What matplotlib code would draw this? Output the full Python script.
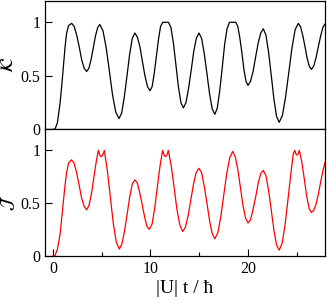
import numpy as np
import matplotlib
matplotlib.use("Agg")
from matplotlib import pyplot as plt
from matplotlib.ticker import MultipleLocator

plt.rcParams['font.family'] = ['Liberation Serif', 'DejaVu Serif']
plt.rcParams['mathtext.fontset'] = 'stix'

# upper panel (K)
t_k = [0.0, 0.2, 0.45, 0.72, 0.9, 1.06, 1.25, 1.4, 1.6, 1.92,
       2.18, 2.43, 2.69, 2.94, 3.2, 3.45,
       3.68, 3.9, 4.13, 4.35, 4.58, 4.8,
       5.13, 5.46, 5.79, 6.11, 6.44, 6.77,
       7.04, 7.31, 7.59, 7.86, 8.13, 8.4,
       8.66, 8.92, 9.18, 9.43, 9.69, 9.95,
       10.17, 10.38, 10.6, 10.82, 11.03, 11.25, 11.55, 11.85,
       12.1, 12.36, 12.61, 12.86, 13.12, 13.37,
       13.64, 13.9, 14.17, 14.44, 14.7, 14.97,
       15.24, 15.51, 15.79, 16.06, 16.33, 16.6,
       16.85, 17.1, 17.35, 17.6, 17.85, 18.1, 18.43, 18.75,
       18.96, 19.17, 19.38, 19.58, 19.79, 20.0,
       20.26, 20.52, 20.79, 21.05, 21.31, 21.57,
       21.84, 22.11, 22.39, 22.66, 22.93, 23.2,
       23.53, 23.85, 24.18, 24.51, 24.83, 25.16,
       25.38, 25.61, 25.83, 26.05, 26.28, 26.5,
       26.74, 26.98, 27.23, 27.47, 27.71, 27.95]
k_vals = [0.0, 0.0, 0.06, 0.24, 0.41, 0.58, 0.78, 0.9, 0.97, 0.99,
          0.96, 0.88, 0.77, 0.65, 0.57, 0.54,
          0.57, 0.65, 0.76, 0.87, 0.95, 0.98,
          0.92, 0.76, 0.54, 0.32, 0.16, 0.10,
          0.15, 0.30, 0.50, 0.70, 0.85, 0.90,
          0.86, 0.77, 0.63, 0.50, 0.40, 0.36,
          0.40, 0.52, 0.68, 0.84, 0.96, 1.0, 1.0, 1.0,
          0.95, 0.80, 0.60, 0.40, 0.25, 0.20,
          0.25, 0.38, 0.55, 0.73, 0.85, 0.90,
          0.85, 0.71, 0.52, 0.33, 0.19, 0.14,
          0.20, 0.36, 0.57, 0.79, 0.94, 1.0, 1.0, 1.0,
          0.96, 0.85, 0.71, 0.56, 0.45, 0.41,
          0.45, 0.54, 0.68, 0.81, 0.90, 0.94,
          0.88, 0.72, 0.50, 0.28, 0.12, 0.065,
          0.13, 0.30, 0.53, 0.76, 0.93, 0.99,
          0.96, 0.88, 0.78, 0.67, 0.59, 0.56,
          0.59, 0.67, 0.78, 0.88, 0.96, 0.99]

# lower panel (J)
t_j = [0.0, 0.2, 0.45, 0.72, 0.9, 1.06, 1.25, 1.4, 1.6, 1.9,
       2.16, 2.42, 2.68, 2.93, 3.19, 3.45,
       3.7, 3.95, 4.2, 4.45, 4.65, 4.8, 4.95, 5.1, 5.27,
       5.57, 5.88, 6.18, 6.49, 6.8,
       7.07, 7.33, 7.6, 7.87, 8.13, 8.4,
       8.65, 8.89, 9.14, 9.39, 9.63, 9.88,
       10.16, 10.43, 10.71, 10.99, 11.25, 11.4, 11.54, 11.68, 11.83,
       12.13, 12.42, 12.71, 13.01, 13.3,
       13.58, 13.86, 14.14, 14.41, 14.69, 14.97,
       15.24, 15.51, 15.79, 16.06, 16.33, 16.6,
       16.91, 17.21, 17.52, 17.82, 18.13, 18.43,
       18.69, 18.95, 19.22, 19.48, 19.74, 20.0,
       20.26, 20.52, 20.79, 21.05, 21.31, 21.57,
       21.84, 22.11, 22.39, 22.66, 22.93, 23.2,
       23.51, 23.81, 24.12, 24.42, 24.65, 24.8, 24.92, 25.03, 25.14, 25.26,
       25.52, 25.77, 26.01, 26.26, 26.5,
       26.74, 26.98, 27.23, 27.47, 27.72, 27.97]
j_vals = [0.0, 0.0, 0.06, 0.2, 0.36, 0.51, 0.68, 0.79, 0.88, 0.91,
          0.88, 0.79, 0.67, 0.55, 0.47, 0.435,
          0.48, 0.59, 0.75, 0.90, 1.0, 0.955, 0.94, 0.955, 1.0,
          0.81, 0.56, 0.31, 0.13, 0.063,
          0.11, 0.23, 0.39, 0.56, 0.68, 0.72,
          0.69, 0.60, 0.49, 0.37, 0.28, 0.25,
          0.30, 0.45, 0.66, 0.86, 1.0, 0.955, 0.94, 0.955, 1.0,
          0.85, 0.65, 0.44, 0.29, 0.23,
          0.27, 0.38, 0.53, 0.68, 0.79, 0.83,
          0.79, 0.66, 0.50, 0.33, 0.21, 0.16,
          0.22, 0.37, 0.58, 0.78, 0.93, 0.99,
          0.94, 0.82, 0.65, 0.48, 0.36, 0.31,
          0.34, 0.44, 0.56, 0.69, 0.78, 0.81,
          0.76, 0.62, 0.43, 0.24, 0.10, 0.053,
          0.12, 0.30, 0.55, 0.80, 0.97, 1.0, 0.965, 0.955, 0.965, 1.0,
          0.89, 0.73, 0.57, 0.45, 0.41,
          0.43, 0.49, 0.59, 0.71, 0.82, 0.91]

fig = plt.figure(figsize=(3.27, 3.0), dpi=100)
ax1 = fig.add_axes([0.1367, 0.569, 0.8573, 0.428])
ax2 = fig.add_axes([0.1367, 0.1477, 0.8573, 0.4213])

ax1.plot(t_k, k_vals, color='black', lw=0.9)
ax2.plot(t_j, j_vals, color='#ff0000', lw=0.9)

for ax in (ax1, ax2):
    ax.set_xlim(-0.85, 27.9)
    ax.set_ylim(0, 1.2)
    ax.set_yticks([0, 0.5, 1])
    ax.set_yticklabels(['0', '0.5', '1'])
    ax.tick_params(direction='in', labelsize=11.5, length=5, width=0.8, pad=3)
    ax.tick_params(which='minor', direction='in', length=3, width=0.8)
    for s in ax.spines.values():
        s.set_linewidth(0.9)

ax1.tick_params(axis='x', which='both', bottom=False, labelbottom=False)
ax2.xaxis.set_major_locator(MultipleLocator(10))
ax2.xaxis.set_minor_locator(MultipleLocator(5))
ax2.tick_params(axis='x', pad=4)

ax1.set_ylabel(r'$\mathcal{K}$', fontsize=13)
ax2.set_ylabel(r'$\mathcal{J}$', fontsize=13)
ax1.yaxis.set_label_coords(-0.1, 0.5)
ax2.yaxis.set_label_coords(-0.1, 0.42)
ax2.set_xlabel('|U| t / ħ', fontsize=14, labelpad=2)

fig.savefig('out.png', dpi=100)
